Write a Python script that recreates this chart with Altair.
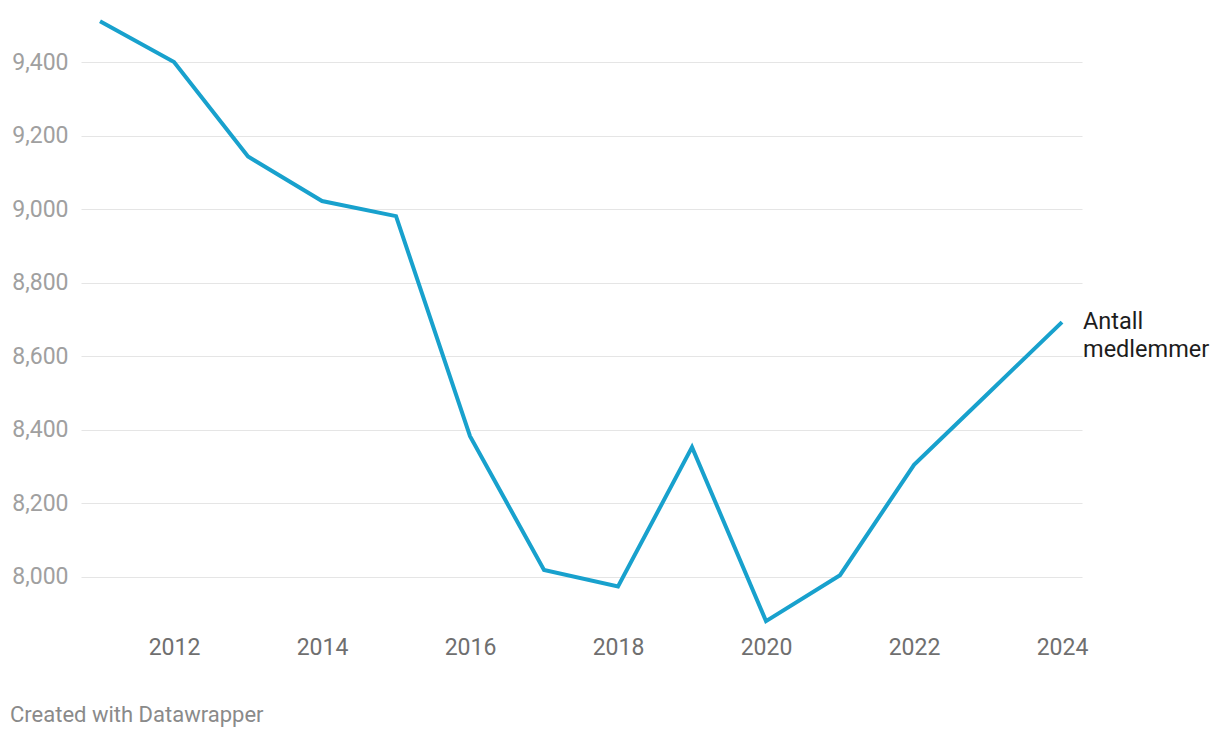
import altair as alt
import pandas as pd

years = [2011, 2012, 2013, 2014, 2015, 2016, 2017, 2018, 2019, 2020, 2021, 2022, 2023, 2024]
members = [9511, 9400, 9143, 9022, 8981, 8383, 8019, 7974, 8353, 7880, 8005, 8305, 8499, 8693]
x_ticks = [2012, 2014, 2016, 2018, 2020, 2022, 2024]
y_ticks = [8000, 8200, 8400, 8600, 8800, 9000, 9200, 9400]
series_label = ["Antall", "medlemmer"]
footer = "Created with Datawrapper"

df = pd.DataFrame({"year": years, "members": members})
last = df.tail(1).assign(label=[series_label])

FONT = "Roboto"
x_scale = alt.Scale(domain=[2010.743, 2024.27], nice=False, zero=False)
y_scale = alt.Scale(domain=[7869.5, 9527.8], nice=False, zero=False)

line = alt.Chart(df).mark_line(color="#18a1cd", strokeWidth=4, strokeJoin="miter").encode(
    x=alt.X("year:Q", scale=x_scale,
            axis=alt.Axis(values=x_ticks, format="d", grid=False, domain=False, ticks=False,
                          labelFont=FONT, labelFontSize=23, labelColor="#6f6f6f",
                          labelPadding=11, title=None, labelFlush=False)),
    y=alt.Y("members:Q", scale=y_scale,
            axis=alt.Axis(values=y_ticks, format=",.0f", grid=True, gridColor="#e5e5e5", gridWidth=1,
                          domain=False, ticks=False, labelFont=FONT, labelFontSize=23,
                          labelColor="#a0a0a0", labelPadding=13, title=None)),
)

label = alt.Chart(last).mark_text(
    align="left", baseline="alphabetic", dx=21, dy=7, font=FONT, fontSize=23.5,
    color="#1d1d1d", lineHeight=28,
).encode(x="year:Q", y="members:Q", text="label")

foot = alt.Chart(pd.DataFrame({"t": [footer]})).mark_text(
    align="left", baseline="middle", font=FONT, fontSize=22, color="#8a8a8a",
).encode(x=alt.value(-71), y=alt.value(700), text="t:N")

chart = alt.layer(line, label, foot).properties(
    width=1001, height=610,
    autosize=alt.AutoSizeParams(type="none"),
    padding={"left": 73, "top": 7, "right": 130, "bottom": 105},
).configure_view(stroke=None)

chart.save("out.html", embed_options={"renderer": "svg", "actions": False})
